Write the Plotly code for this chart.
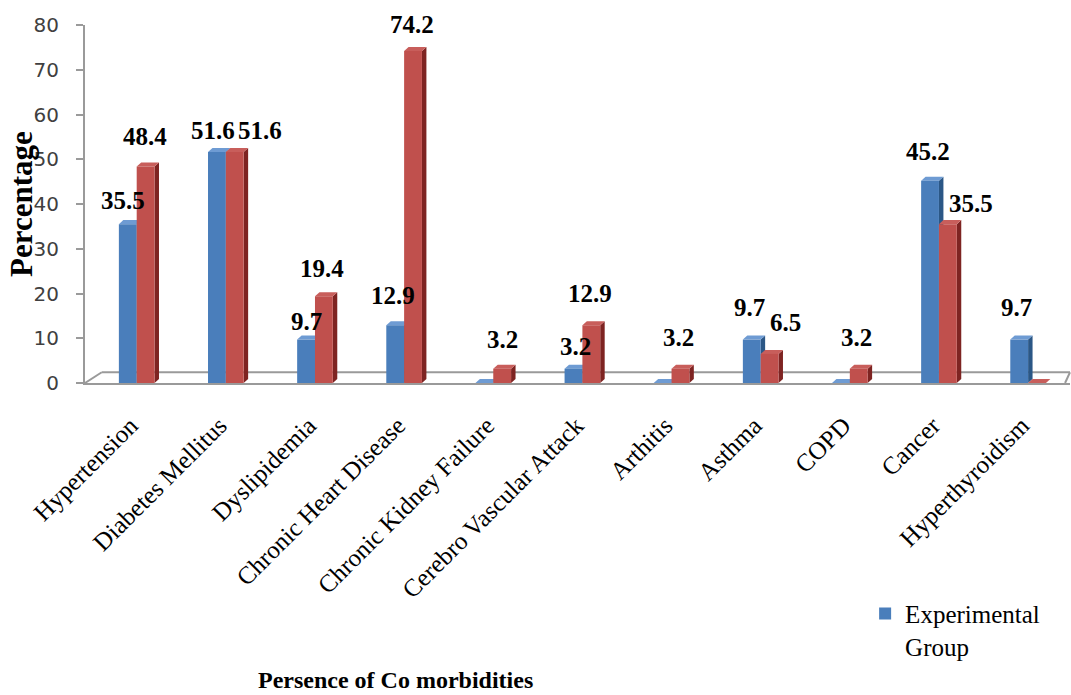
import plotly.graph_objects as go

# Co-morbidity categories and percentages per group
categories = [
    "Hypertension", "Diabetes Mellitus", "Dyslipidemia", "Chronic Heart Disease",
    "Chronic Kidney Failure", "Cerebro Vascular Attack", "Arthitis", "Asthma",
    "COPD", "Cancer", "Hyperthyroidism",
]
experimental = [35.5, 51.6, 9.7, 12.9, 0, 3.2, 0, 9.7, 0, 45.2, 9.7]
control = [48.4, 51.6, 19.4, 74.2, 3.2, 12.9, 3.2, 6.5, 3.2, 35.5, 0]

# label nudges (category units, pixels)
exp_label_dx = [-0.175, -0.16, -0.11, -0.14, 0, -0.1, 0, -0.15, 0, -0.14, -0.15]
exp_label_dy = [24, 22, 18, 30, 0, 22, 0, 32, 0, 29, 32]
ctl_label_dx = [0.07, 0.36, 0.06, 0.07, 0.08, 0.07, 0.06, 0.26, 0.05, 0.34, 0]
ctl_label_dy = [30, 22, 28, 26, 29, 32, 31, 31, 31, 21, 0]

BAR_W = 0.2
DEPTH_X = 0.05
DEPTH_Y = 0.9

series = [
    dict(name="Experimental<br>Group", values=experimental, offset=-0.22,
         front="#4A7EBB", top="#6E9BD3", side="#2B5786", legend=True,
         dx=exp_label_dx, dy=exp_label_dy),
    dict(name="Control Group", values=control, offset=-0.02,
         front="#C0504D", top="#C85E5B", side="#7E2422", legend=False,
         dx=ctl_label_dx, dy=ctl_label_dy),
]

fig = go.Figure()
shapes = []
annotations = []
xs = list(range(len(categories)))

for s in series:
    fig.add_trace(go.Bar(
        x=xs, y=s["values"], name=s["name"], offset=s["offset"], width=BAR_W,
        marker=dict(color=s["front"], line=dict(width=0)),
        showlegend=s["legend"], hoverinfo="skip",
    ))
    for i, v in enumerate(s["values"]):
        x0 = i + s["offset"]
        x1 = x0 + BAR_W
        # right side face
        shapes.append(dict(
            type="path", xref="x", yref="y", layer="below",
            path=f"M {x1},0 L {x1},{v} L {x1 + DEPTH_X},{v + DEPTH_Y} L {x1 + DEPTH_X},{DEPTH_Y} Z",
            fillcolor=s["side"], line=dict(width=0),
        ))
        # top face
        shapes.append(dict(
            type="path", xref="x", yref="y", layer="below",
            path=f"M {x0},{v} L {x1},{v} L {x1 + DEPTH_X},{v + DEPTH_Y} L {x0 + DEPTH_X},{v + DEPTH_Y} Z",
            fillcolor=s["top"], line=dict(width=0),
        ))
        if v > 0:
            annotations.append(dict(
                x=i + s["dx"][i], y=v, xref="x", yref="y", text=f"{v:.1f}",
                showarrow=False, yanchor="middle", yshift=s["dy"][i],
                font=dict(family="Liberation Serif", size=25, color="black", weight="bold"),
            ))

# floor outline
floor_col = "#9A9A9A"
shapes += [
    dict(type="line", xref="paper", yref="y", x0=0, y0=0, x1=0.017, y1=2.4,
         line=dict(color=floor_col, width=2), layer="below"),
    dict(type="line", xref="paper", yref="y", x0=0.017, y0=2.4, x1=1.0, y1=2.4,
         line=dict(color=floor_col, width=2), layer="below"),
    dict(type="line", xref="paper", yref="y", x0=0.995, y0=0, x1=1.0, y1=2.4,
         line=dict(color=floor_col, width=2), layer="below"),
]

annotations += [
    dict(text="Percentage", xref="paper", yref="paper", x=-0.065, y=0.5,
         textangle=-90, showarrow=False, xanchor="center", yanchor="middle",
         font=dict(family="Liberation Serif", size=31, color="black", weight="bold")),
    dict(text="Persence of Co morbidities", xref="paper", yref="paper", x=0.315, y=-0.83,
         showarrow=False, xanchor="center", yanchor="middle",
         font=dict(family="Liberation Serif", size=24, color="black", weight="bold")),
]

fig.update_layout(
    width=1071, height=695,
    margin=dict(l=85, r=1, t=25, b=312),
    plot_bgcolor="white", paper_bgcolor="white",
    barmode="overlay",
    shapes=shapes, annotations=annotations,
    legend=dict(x=0.792, y=-0.58, xanchor="left", yanchor="top", valign="top",
                font=dict(family="Liberation Serif", size=25, color="black"),
                bgcolor="rgba(0,0,0,0)", itemwidth=30),
    xaxis=dict(
        range=[-0.6, 10.45], tickmode="array", tickvals=xs, ticktext=categories,
        tickangle=-45, showline=True, linecolor=floor_col, linewidth=2,
        ticks="", showgrid=False, zeroline=False,
        ticklabelstandoff=16, ticklabelshift=-8,
        tickfont=dict(family="Liberation Serif", size=25, color="black"),
    ),
    yaxis=dict(
        range=[0, 80], dtick=10, showline=True, linecolor=floor_col, linewidth=2,
        ticks="outside", ticklen=7, tickcolor=floor_col, tickwidth=2,
        showgrid=False, zeroline=False, ticklabelstandoff=13,
        tickfont=dict(family="DejaVu Sans", size=20, color="#404040"),
    ),
)

fig.write_html("out.html")
